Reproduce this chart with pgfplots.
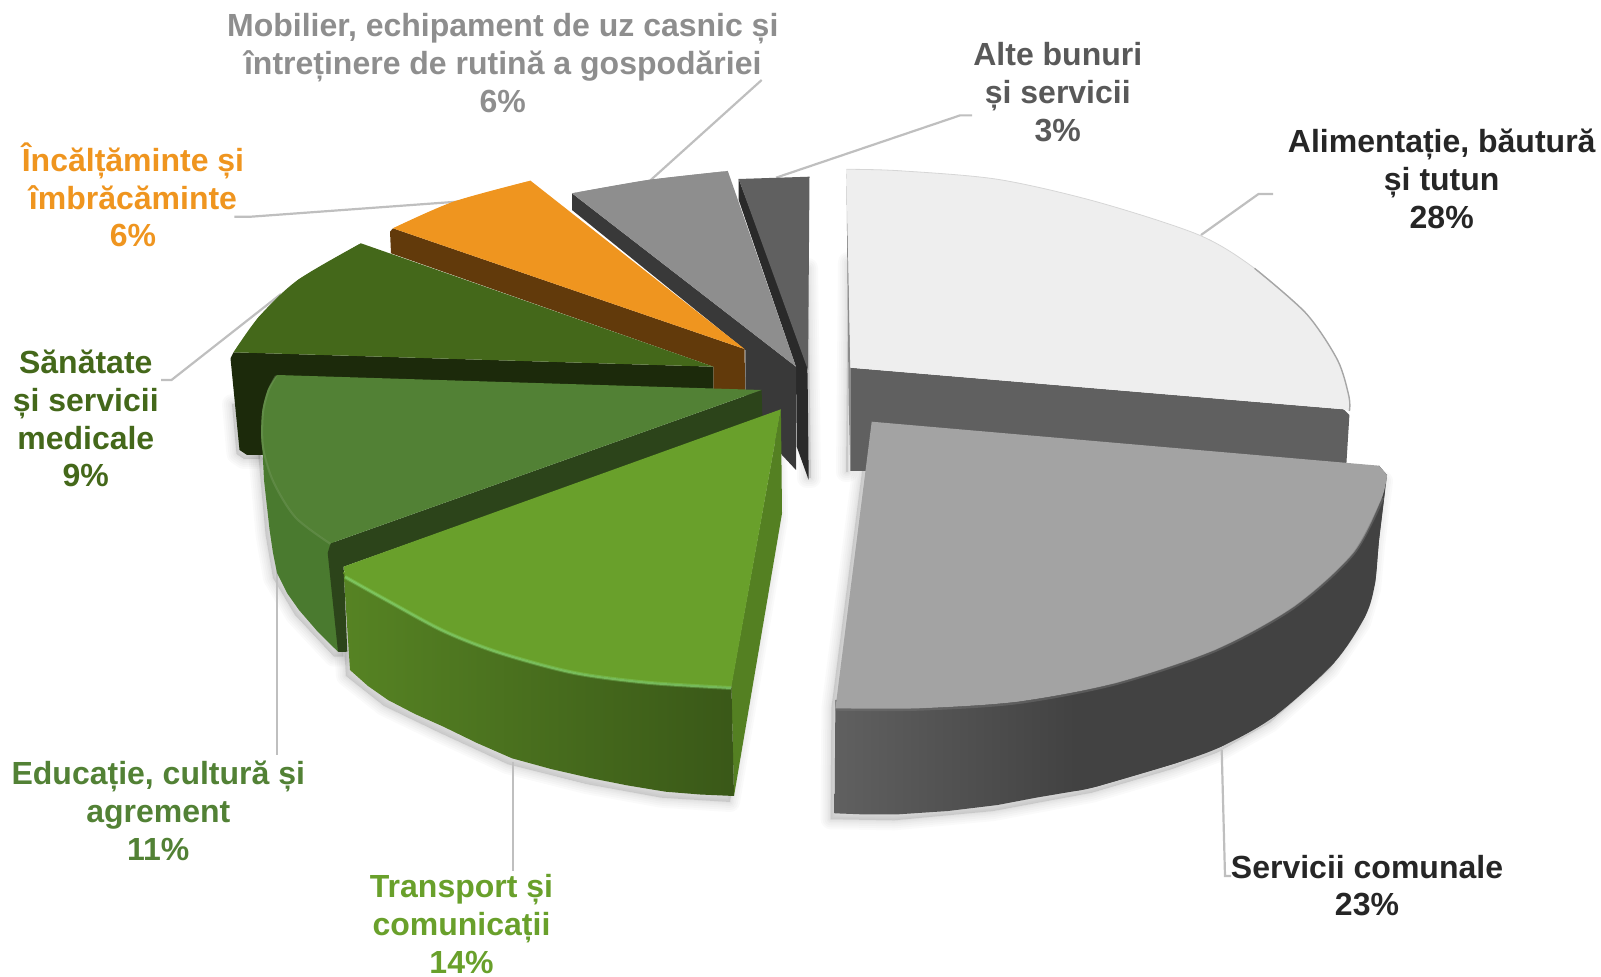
\documentclass[border=0pt]{standalone}
\usepackage{fontspec}
\setmainfont{Liberation Sans}
\usepackage{pgfplots}
\usepackage{pgfplotstable}
\pgfplotsset{compat=1.18}
\definecolor{lead}{HTML}{BFBFBF}
\definecolor{cfood}{HTML}{EEEEEE}
\definecolor{cfoodside}{HTML}{606060}
\definecolor{cserv}{HTML}{A3A3A3}
\definecolor{cservside}{HTML}{424242}
\definecolor{ctrans}{HTML}{69A02B}
\definecolor{cedu}{HTML}{528135}
\definecolor{ceduside}{HTML}{4A7A2F}
\definecolor{cedud}{HTML}{2C441A}
\definecolor{chealth}{HTML}{44681A}
\definecolor{chealthd}{HTML}{1C2A0B}
\definecolor{corange}{HTML}{EF951F}
\definecolor{coranged}{HTML}{623A0B}
\definecolor{cmob}{HTML}{8E8E8E}
\definecolor{cmobd}{HTML}{393939}
\definecolor{calte}{HTML}{606060}
\definecolor{calted}{HTML}{2A2A2A}
\tikzset{
  lbl/.style={font=\fontsize{16}{18.9}\selectfont\bfseries, align=center, anchor=center, inner sep=0pt},
  sh/.style={draw=black, fill=black, opacity=0.02, line join=round},
}
\pgfplotstableread{
x y
835.4 701.7
834.6 813.3
898.6 814.3
997.5 805
1096 786.7
1175.4 763.3
1221 746.7
1274 716.7
1333.6 663.3
1365 616.7
1375 583.3
1379 540
1387 475
871.7 421.7
}\servshadow
\pgfplotstableread{
x y
343.6 575
350 670
388 700
443.5 726.7
512 758.3
591.5 778.3
665.5 791.7
734 796
782 513.3
780.9 409.3
}\transshadow
\pgfplotstableread{
x y
262 446.7
269.6 530
277 573
299 610
338 651.7
347.3 651.7
347 560
}\edushadow
\pgfplotstableread{
x y
808 268
811 478
807 478
}\gapshadowa
\pgfplotstableread{
x y
848 262
848 472
846 472
}\gapshadowb
\pgfplotstableread{
x y
239.5 450
247 455
262.8 455
262.8 400
235 400
}\healthshadow
\begin{document}
\begin{tikzpicture}
\begin{axis}[
  scale only axis, width=800.5pt, height=488.5pt,
  xmin=0, xmax=1601, ymin=0, ymax=977, y dir=reverse,
  hide axis, clip=false,
  every axis plot post/.append style={mark=none},
]
% page extent
\addplot[draw=none] coordinates {(0,0) (1601,977)};
% soft shadows
\pgfplotsinvokeforeach{10,8,6,4,2.5,1}{
  \addplot[sh, line width=#1pt] table[x expr=\thisrow{x}-4, y expr=\thisrow{y}+6] {\servshadow} -- cycle;
  \addplot[sh, line width=#1pt] table[x expr=\thisrow{x}-4, y expr=\thisrow{y}+6] {\transshadow} -- cycle;
  \addplot[sh, line width=#1pt] table[x expr=\thisrow{x}-4, y expr=\thisrow{y}+5] {\edushadow} -- cycle;
  \addplot[sh, line width=#1pt] table {\gapshadowa} -- cycle;
  \addplot[sh, line width=#1pt] table {\gapshadowb} -- cycle;
  \addplot[sh, line width=#1pt] table[x expr=\thisrow{x}-3, y expr=\thisrow{y}+4] {\healthshadow} -- cycle;
}
% leader lines
\addplot[lead, line width=1.1pt] coordinates {(1201,235) (1258.5,194) (1273,194)};
\addplot[lead, line width=1.1pt] coordinates {(776,177.7) (960,115.4) (972,115.4)};
\addplot[lead, line width=1.1pt] coordinates {(650,180.7) (761.7,80)};
\addplot[lead, line width=1.1pt] coordinates {(457,201.7) (251,216.7) (234.4,216.7)};
\addplot[lead, line width=1.1pt] coordinates {(281,294) (171.5,380) (161,380)};
\addplot[lead, line width=1.1pt] coordinates {(277,568) (277,755)};
\addplot[lead, line width=1.1pt] coordinates {(512.7,761.7) (512.7,871)};
\addplot[lead, line width=1.1pt] coordinates {(1221.7,750) (1225,876) (1231,876)};
% Alte bunuri
\addplot[draw=none, fill=calted] coordinates {(738.7,179) (738.7,200) (796,367) (796.7,446.7) (808.7,480) (807.6,376) (807,360)} -- cycle;
\addplot[draw=none, fill=calte] coordinates {(738.7,179) (809.5,176.7) (808,370)} -- cycle;
% Mobilier
\addplot[draw=none, fill=cmobd] coordinates {(572,193.3) (572,210) (745.3,350) (745.3,395) (782,455) (796,470) (796,366.7)} -- cycle;
\addplot[draw=none, fill=cmob] coordinates {(572,193.3) (648,180) (727.8,171) (796,366.7)} -- cycle;
\addplot[draw=none, fill=cmob, smooth] coordinates {(572,193.3) (648,180) (727.8,171)} -- cycle;
% Orange
\addplot[draw=none, fill=coranged] coordinates {(393,228.3) (390,231.7) (391,253.3) (713.4,366.7) (713.4,395) (745.3,395) (744.5,349)} -- cycle;
\addplot[draw=none, fill=corange] coordinates {(393,228.3) (453.5,201.7) (530.5,180.7) (744.5,349)} -- cycle;
\addplot[draw=none, fill=corange, smooth] coordinates {(393,228.3) (453.5,201.7) (530.5,180.7)} -- cycle;
% Health
\addplot[draw=none, fill=chealthd] coordinates {(233.6,352.3) (230.5,358.3) (239.5,450) (247,455) (290,455) (290,392) (713.4,392) (713.4,366.7)} -- cycle;
\addplot[draw=none, fill=chealth] coordinates {(360.9,243.3) (297.8,280) (259,316.7) (233.6,352.3) (713.4,366.7)} -- cycle;
\addplot[draw=none, fill=chealth, smooth] coordinates {(360.9,243.3) (297.8,280) (259,316.7) (233.6,352.3)} -- cycle;
% Food
\addplot[draw=none, fill=cfoodside] coordinates {(850.4,367.7) (1343.5,409.3) (1349.4,415) (1346,470) (850.4,471)} -- cycle;
\addplot[draw=none, fill=black!45] coordinates {(846.4,169.3) (850.4,367.7) (850.4,471) (848.6,400)} -- cycle;
\addplot[draw=none, fill=cfood] coordinates {(846.4,169.3) (898.6,170.7) (997.5,179.3) (1096.3,201.7) (1199,235) (1254.5,268.3) (1306,313.3) (1337.5,360) (1349,396.7) (1349.4,411) (1343.5,409.3) (850.4,367.7)} -- cycle;
\addplot[draw=none, fill=cfood, smooth] coordinates {(846.4,169.3) (898.6,170.7) (997.5,179.3) (1096.3,201.7) (1199,235) (1254.5,268.3) (1306,313.3) (1337.5,360) (1349,396.7) (1349.4,411)} -- cycle;
\addplot[smooth, color=black!16, line width=0.4pt] coordinates {(846.4,169.3) (898.6,170.7) (997.5,179.3) (1096.3,201.7) (1199,235) (1254.5,268.3) (1306,313.3)};
\addplot[smooth, color=black!35, line width=0.7pt] coordinates {(1254.5,268.3) (1306,313.3) (1337.5,360) (1349,396.7) (1349.4,411)};
% Services
\addplot[draw=none, fill=cservside] coordinates {(1075,690) (1075,791) (1096,786.7) (1175.4,763.3) (1221,746.7) (1274,716.7) (1333.6,663.3) (1365,616.7) (1375,583.3) (1379,540) (1387,475) (1379,465.7)} -- cycle;
\addplot[draw=none, fill=cservside, smooth] coordinates {(1075,791) (1096,786.7) (1175.4,763.3) (1221,746.7) (1274,716.7) (1333.6,663.3) (1365,616.7) (1375,583.3) (1379,540) (1385,490)} -- cycle;
\addplot[draw=none, left color=cfoodside, right color=cservside] coordinates {(835.4,700) (834.6,813.3) (866,814.5) (898.6,814.3) (948,811) (997.5,805) (1037,797.5) (1075.5,791) (1075.5,680)} -- cycle;
\addplot[draw=none, fill=cserv] coordinates {(871.7,421.7) (1379,465.7) (1387,475) (1381,500) (1353.4,553) (1294,606.7) (1215,650) (1116,683) (1017,701.7) (918.4,708.3) (835.4,708.3)} -- cycle;
\addplot[draw=none, fill=cserv, smooth] coordinates {(1387,475) (1381,500) (1353.4,553) (1294,606.7) (1215,650) (1116,683) (1017,701.7) (918.4,708.3) (835.4,708.3)} -- cycle;
\addplot[smooth, color=cservside!50!cserv, line width=1.2pt, opacity=0.5] coordinates {(1383,498) (1353.4,554) (1294,607.7) (1215,651) (1116,684) (1017,703) (918.4,709.5) (835.4,709.5)};
% Education
\addplot[draw=none, fill=ceduside] coordinates {(262,440) (264,480) (269.6,530) (273,553) (277,573) (287,593) (299,610) (318,632) (338,651.7) (345,651.7) (335,540)} -- cycle;
\addplot[draw=none, fill=cedud] coordinates {(761.6,390) (762.4,418) (343.6,566.7) (347.3,651.7) (341,652) (338,651.7) (327.7,553) (330.6,543.3)} -- cycle;
\addplot[draw=none, fill=cedu] coordinates {(277,375) (761.6,390) (330.6,543.3) (295.5,516.7) (273,480) (262,446.7) (262,413) (267.7,390)} -- cycle;
\addplot[draw=none, fill=cedu, smooth] coordinates {(330.6,543.3) (295.5,516.7) (273,480) (262,446.7) (262,413) (267.7,390) (277,375)} -- cycle;
\addplot[smooth, color=cedu!80!white, line width=1pt, opacity=0.45] coordinates {(330.6,544) (295.5,517.5) (273,481) (263,446.7) (263,413) (268.7,390) (276,376)};
% Transport
\addplot[draw=none, fill=ctrans!80!black] coordinates {(780.9,409.3) (782,513.3) (734,796) (731.3,685)} -- cycle;
\addplot[draw=none, left color=ctrans!82!black, right color=ctrans!55!black] coordinates {(343.6,572) (350,670) (368,686) (388,700) (415,714) (443.5,726.7) (477,743) (512,758.3) (551,769) (591.5,778.3) (628,785.5) (665.5,791.7) (700,794.5) (734,796) (731.3,680) (500,640)} -- cycle;
\addplot[draw=none, fill=ctrans] coordinates {(780.9,409.3) (343.6,566.7) (345,576) (388,600) (443.5,630) (499,651.7) (573,671.7) (647,681.7) (731.3,687)} -- cycle;
\addplot[draw=none, fill=ctrans, smooth] coordinates {(345,576) (388,600) (443.5,630) (499,651.7) (573,671.7) (647,681.7) (731.3,687)} -- cycle;
\addplot[smooth, color=ctrans!60!green!60!white, line width=2pt, opacity=0.3] coordinates {(345,577) (388,601) (443.5,631) (499,652.7) (573,672.7) (647,682.7) (731,688)};
\addplot[smooth, color=ctrans!60!green!60!white, line width=1pt, opacity=0.6] coordinates {(345,577) (388,601) (443.5,631) (499,652.7) (573,672.7) (647,682.7) (731,688)};
% Labels
\node[lbl, text=black!85] at (axis cs:1441.7,178.7) {Alimentație, băutură\\și tutun\\28\%};
\node[lbl, text=black!65] at (axis cs:1057.8,92) {Alte bunuri\\și servicii\\3\%};
\node[lbl, text=cmob] at (axis cs:502.8,63) {Mobilier, echipament de uz casnic și\\întreținere de rutină a gospodăriei\\6\%};
\node[lbl, text=corange] at (axis cs:133,195) {Încălțăminte și\\îmbrăcăminte\\6\%};
\node[lbl, text=chealth] at (axis cs:85.8,418.6) {Sănătate\\și servicii\\medicale\\9\%};
\node[lbl, text=cedu] at (axis cs:158.3,810.7) {Educație, cultură și\\agrement\\11\%};
\node[lbl, text=ctrans] at (axis cs:461.5,924) {Transport și\\comunicații\\14\%};
\node[lbl, text=black!85] at (axis cs:1367,885.5) {Servicii comunale\\23\%};
\end{axis}
\end{tikzpicture}
\end{document}
